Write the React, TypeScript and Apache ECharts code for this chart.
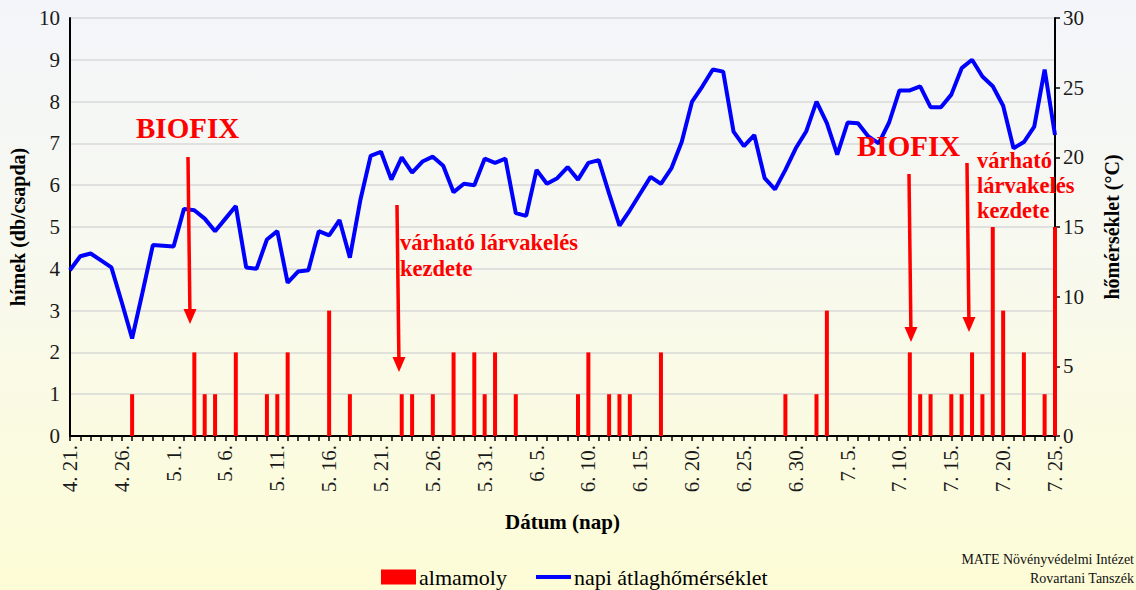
import React, { useEffect, useRef } from "react";
import * as echarts from "echarts";

// Calendar: 4.21. – 7.25. (daily)
const months = [4, 5, 6, 7];
const monthDays = [30, 31, 30, 31];
const startDay = 21;
const endMonth = 7;
const endDay = 25;

const dates: string[] = [];
months.forEach((m, k) => {
  const from = k === 0 ? startDay : 1;
  const to = m === endMonth ? endDay : monthDays[k];
  for (let d = from; d <= to; d++) dates.push(`${m}. ${d}.`);
});

// almamoly (himek, db/csapda) per day
const almamoly = [
  0, 0, 0, 0, 0, 0, 1, 0, 0, 0,
  0, 0, 2, 1, 1, 0, 2, 0, 0, 1,
  1, 2, 0, 0, 0, 3, 0, 1, 0, 0,
  0, 0, 1, 1, 0, 1, 0, 2, 0, 2,
  1, 2, 0, 1, 0, 0, 0, 0, 0, 1,
  2, 0, 1, 1, 1, 0, 0, 2, 0, 0,
  0, 0, 0, 0, 0, 0, 0, 0, 0, 1,
  0, 0, 1, 3, 0, 0, 0, 0, 0, 0,
  0, 2, 1, 1, 0, 1, 1, 2, 1, 5,
  3, 0, 2, 0, 1, 5,
];

// napi átlaghőmérséklet (°C)
const homerseklet = [
  11.9, 12.9, 13.1, 12.6, 12.1, 9.6, 7.0, 10.3, 13.7, 13.65,
  13.6, 16.3, 16.2, 15.6, 14.7, 15.6, 16.5, 12.1, 12.0, 14.1,
  14.7, 11.0, 11.8, 11.9, 14.7, 14.4, 15.5, 12.8, 16.9, 20.1,
  20.4, 18.4, 20.0, 18.9, 19.7, 20.05, 19.4, 17.5, 18.1, 18.0,
  19.9, 19.6, 19.9, 16.0, 15.8, 19.1, 18.1, 18.5, 19.3, 18.4,
  19.6, 19.8, 17.4, 15.1, 16.2, 17.4, 18.6, 18.1, 19.2, 21.1,
  24.0, 25.1, 26.3, 26.15, 21.85, 20.8, 21.6, 18.5, 17.7, 19.1,
  20.65, 21.85, 24.0, 22.45, 20.2, 22.5, 22.45, 21.5, 21.0, 22.5,
  24.8, 24.8, 25.1, 23.6, 23.6, 24.5, 26.4, 27.0, 25.8, 25.1,
  23.7, 20.65, 21.1, 22.2, 26.3, 21.6,
];

const leftTicks = { min: 0, max: 10, interval: 1 };
const rightTicks = { min: 0, max: 30, interval: 5 };

const SERIF = "Liberation Serif";
const RED = "#ff0000";

function arrow(x1: number, y1: number, x2: number, y2: number) {
  const head = 15;
  const half = 6.5;
  return [
    {
      type: "line",
      shape: { x1, y1, x2: x2 - (x2 - x1) * 0.05, y2: y2 - head + 2 },
      style: { stroke: RED, lineWidth: 3.5 },
      silent: true,
      z: 50,
    },
    {
      type: "polygon",
      shape: { points: [[x2 - half, y2 - head], [x2 + half, y2 - head], [x2, y2]] },
      style: { fill: RED },
      silent: true,
      z: 50,
    },
  ];
}

function redText(x: number, y: number, text: string, size: number, lineHeight?: number) {
  return {
    type: "text",
    x,
    y,
    silent: true,
    z: 50,
    style: {
      text,
      fill: RED,
      fontFamily: SERIF,
      fontWeight: "bold",
      fontSize: size,
      lineHeight: lineHeight || size,
      textVerticalAlign: "top",
    },
  };
}

export default function App() {
  const ref = useRef<HTMLDivElement>(null);
  useEffect(() => {
    if (!ref.current) return;
    const chart = echarts.init(ref.current, null, { renderer: "svg" });
    chart.setOption({
      animation: false,
      backgroundColor: "transparent",
      textStyle: { fontFamily: SERIF },
      grid: { left: 68, right: 81, top: 18, bottom: 154 },
      legend: {
        left: 376,
        top: 561,
        itemWidth: 35,
        itemHeight: 15,
        itemGap: 27,
        textStyle: { fontSize: 22, color: "#000", fontFamily: SERIF, padding: [0, 0, 0, -2] },
        data: [
          { name: "almamoly", icon: "rect" },
          { name: "napi átlaghőmérséklet", itemStyle: { opacity: 0 }, lineStyle: { width: 4 } },
        ],
      },
      xAxis: {
        type: "category",
        data: dates,
        boundaryGap: false,
        name: "Dátum (nap)",
        nameLocation: "middle",
        nameGap: 75,
        nameTextStyle: { fontSize: 21, fontWeight: "bold", color: "#000", fontFamily: SERIF },
        axisLine: { lineStyle: { color: "#000", width: 2 } },
        axisTick: { show: true, interval: 0, length: 5, lineStyle: { color: "#000", width: 1.5 } },
        axisLabel: {
          interval: 4,
          rotate: 90,
          margin: 9,
          fontSize: 21,
          color: "#1a1a1a",
          fontFamily: SERIF,
        },
        splitLine: { show: false },
      },
      yAxis: [
        {
          type: "value",
          ...leftTicks,
          name: "hímek (db/csapda)",
          nameLocation: "middle",
          nameGap: 36,
          nameTextStyle: { fontSize: 20, fontWeight: "bold", color: "#000", fontFamily: SERIF },
          axisLine: { show: true, lineStyle: { color: "#000", width: 2 } },
          axisTick: { show: false },
          axisLabel: { fontSize: 21, color: "#1a1a1a", margin: 10, fontFamily: SERIF },
          splitLine: { show: true, lineStyle: { color: "#d9d9d9", width: 1.5 } },
        },
        {
          type: "value",
          position: "right",
          ...rightTicks,
          name: "hőmérséklet (°C)",
          nameLocation: "middle",
          nameGap: 47,
          nameTextStyle: { fontSize: 20, fontWeight: "bold", color: "#000", fontFamily: SERIF },
          axisLine: { show: true, lineStyle: { color: "#000", width: 2 } },
          axisTick: { show: true, length: 5, lineStyle: { color: "#000", width: 1.5 } },
          axisLabel: { fontSize: 21, color: "#1a1a1a", margin: 8, fontFamily: SERIF },
          splitLine: { show: false },
        },
      ],
      series: [
        {
          name: "almamoly",
          type: "bar",
          yAxisIndex: 0,
          data: almamoly,
          barWidth: 4,
          itemStyle: { color: RED },
          z: 2,
        },
        {
          name: "napi átlaghőmérséklet",
          type: "line",
          yAxisIndex: 1,
          data: homerseklet,
          symbol: "none",
          lineStyle: { color: "#0000ff", width: 4 },
          itemStyle: { color: "#0000ff" },
          z: 3,
        },
      ],
      graphic: [
        ...arrow(188, 157, 190, 324),
        ...arrow(397, 205, 399, 372),
        ...arrow(909, 174, 911, 342),
        ...arrow(967, 163, 969, 332),
        redText(136, 113, "BIOFIX", 29),
        redText(857, 131, "BIOFIX", 29),
        redText(400, 229, "várható lárvakelés\nkezdete", 22.5, 26),
        redText(977, 148, "várható\nlárvakelés\nkezdete", 22.5, 25),
        {
          type: "text",
          x: 1134,
          y: 550,
          silent: true,
          style: {
            text: "MATE Növényvédelmi Intézet\nRovartani Tanszék",
            fill: "#111",
            fontFamily: SERIF,
            fontSize: 14,
            lineHeight: 19,
            textAlign: "right",
            textVerticalAlign: "top",
          },
        },
      ],
    });
    return () => chart.dispose();
  }, []);
  return (
    <div
      ref={ref}
      style={{
        position: "fixed",
        left: 0,
        top: 0,
        width: 1136,
        height: 590,
        background: "linear-gradient(to bottom, #f3f5fa 0%, #f8f9ee 45%, #fdfcd6 100%)",
      }}
    />
  );
}
